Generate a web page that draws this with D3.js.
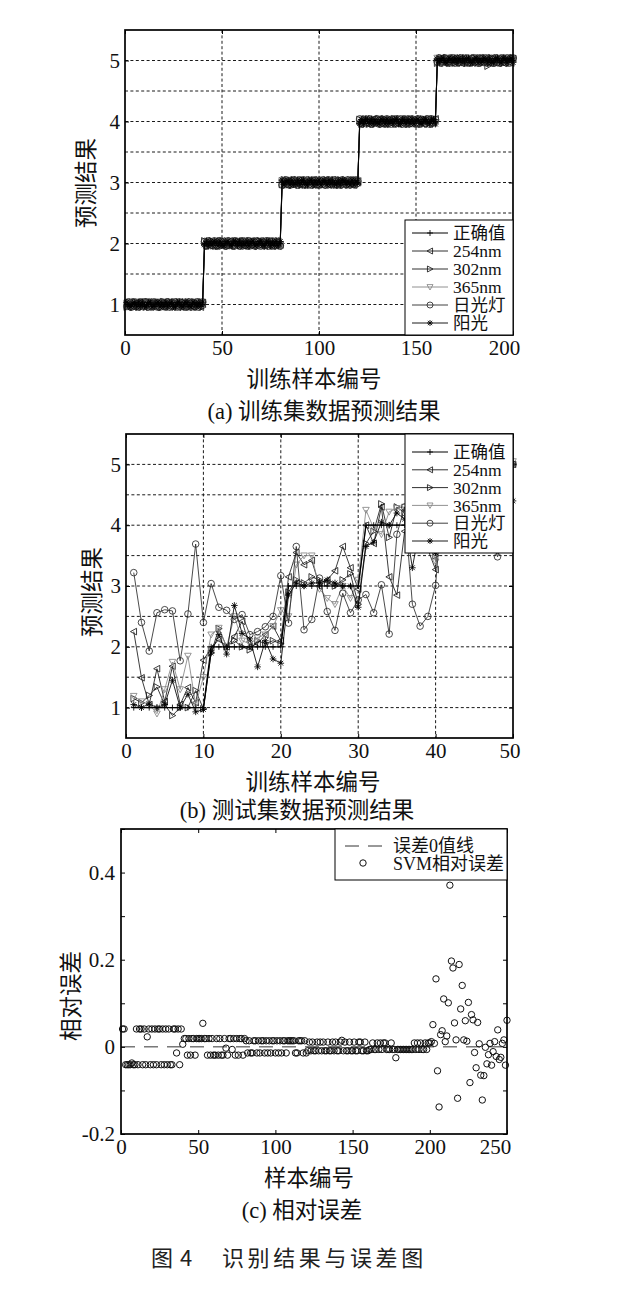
<!DOCTYPE html>
<html><head><meta charset="utf-8"><title>图4 识别结果与误差图</title>
<script src="https://cdn.jsdelivr.net/npm/d3@7/dist/d3.min.js"></script>
<style>html,body{margin:0;padding:0;background:#fff}svg{display:block}</style>
</head><body>
<svg id="fig" width="641" height="1294" xmlns="http://www.w3.org/2000/svg"></svg>
<script>
// ---------------- DATA ----------------
const seriesNames = ["正确值","254nm","302nm","365nm","日光灯","阳光"];
const trainTicksX = [0,50,100,150,200];
const testTicksX  = [0,10,20,30,40,50];
const predTicksY  = [1,2,3,4,5];
const predTickLabels = ["1","2","3","4","5"];
const errTicksX = [0,50,100,150,200,250];
const errTicksY = [-0.2,-0.1,0,0.1,0.2,0.3,0.4,0.5];
const errTickLabels = ["-0.2","","0","","0.2","","0.4",""];
const errLegend = ["误差0值线","SVM相对误差"];

// (a) training set: true class of samples 1..200
const trainTrue = [
1,1,1,1,1,1,1,1,1,1, 1,1,1,1,1,1,1,1,1,1, 1,1,1,1,1,1,1,1,1,1, 1,1,1,1,1,1,1,1,1,1,
2,2,2,2,2,2,2,2,2,2, 2,2,2,2,2,2,2,2,2,2, 2,2,2,2,2,2,2,2,2,2, 2,2,2,2,2,2,2,2,2,2,
3,3,3,3,3,3,3,3,3,3, 3,3,3,3,3,3,3,3,3,3, 3,3,3,3,3,3,3,3,3,3, 3,3,3,3,3,3,3,3,3,3,
4,4,4,4,4,4,4,4,4,4, 4,4,4,4,4,4,4,4,4,4, 4,4,4,4,4,4,4,4,4,4, 4,4,4,4,4,4,4,4,4,4,
5,5,5,5,5,5,5,5,5,5, 5,5,5,5,5,5,5,5,5,5, 5,5,5,5,5,5,5,5,5,5, 5,5,5,5,5,5,5,5,5,5];
// (a) predicted minus true, in hundredths (read as a +-0.04 band)
const trainDev254 = [
3,-4,4,-3,2,-4,4,3,-2,-4, 4,-4,3,2,-3,-4,4,-2,3,-4, 4,3,-4,-3,4,2,-4,3,-3,4, -4,2,4,-3,-4,3,4,-2,-4,3,
-3,4,2,-4,3,-4,4,-2,3,4, -4,-3,2,4,-4,3,-2,-4,4,3, -3,4,-4,2,3,-4,4,-3,-2,4, 3,-4,4,-3,2,-4,3,4,-4,-2,
4,-3,3,-4,2,4,-4,3,-3,-4, 4,2,-4,3,4,-3,-4,2,4,-3, 3,-4,4,-2,-4,3,4,-4,2,-3, 4,3,-4,-3,4,-2,3,-4,4,2,
-4,3,4,-2,-4,3,-3,4,2,-4, 4,-3,3,-4,-2,4,3,-4,4,-3, -4,2,4,3,-4,-3,4,-2,3,-4, 4,3,-3,-4,2,4,-4,3,-2,4,
3,-4,4,2,-3,-4,4,-3,3,4, -4,-2,4,3,-4,3,-3,4,-4,2, 3,-4,4,-3,-2,4,3,-4,4,-3, 2,-4,3,4,-4,-3,4,2,-4,3];
const trainDev302 = [
-4,3,2,-4,4,-3,-4,3,4,-2, -4,4,3,-3,4,-4,2,3,-4,4, -3,-4,4,2,-3,4,-4,3,-2,-4, 4,3,-4,4,-3,2,-4,3,4,-4,
4,-2,-4,3,4,-3,2,-4,4,-4, 3,2,-4,-3,4,3,-4,4,-2,-3, 4,-4,3,4,-4,2,-3,4,-4,3, -2,4,-4,3,4,-3,-4,2,4,-3,
-3,4,-4,3,2,-4,4,-3,4,3, -4,-2,4,-4,3,4,-3,-4,2,4, -4,3,-3,4,2,-4,-3,4,-4,3, 4,-2,-4,3,-4,4,2,-3,4,-4,
3,-4,-3,4,2,-4,4,-3,-4,3, 4,-2,-4,4,3,-3,-4,2,4,-4, 3,4,-3,-2,4,-4,3,-4,4,2, -3,4,-4,3,-2,-4,4,3,-4,2,
-4,3,4,-3,-2,4,-4,3,4,-4, 2,3,-4,4,-3,-4,3,2,-4,4, 3,-3,4,-4,-2,4,-9,-4,4,-3, 2,-4,4,3,-4,-3,2,-4,3,4];
const trainDev365 = [
2,-3,4,-4,3,-2,4,-4,-3,4, 2,-4,3,-3,4,-4,-2,3,4,-4, 3,-3,-4,4,2,-3,4,-4,3,2, -4,4,-3,-4,3,4,-2,-4,4,3,
-4,3,4,-4,-2,3,4,-3,-4,2, 4,-4,3,-3,4,2,-4,4,-3,3, -4,-2,4,3,-4,4,-3,2,-4,3, 4,-4,-3,4,2,-4,3,-3,4,-4,
3,4,-4,-3,4,-2,3,-4,4,-3, 2,4,-4,3,-4,-3,4,2,-4,4, -3,3,-4,4,2,-3,-4,4,3,-2, 4,-4,3,-4,4,2,-3,4,-4,3,
-3,4,-4,3,4,-2,-4,3,-3,4, 2,-4,4,-3,3,-4,4,2,-3,-4, 4,3,-4,3,-2,4,-4,4,-3,2, 3,-4,4,-3,-4,3,2,-4,4,-3,
4,-3,-4,3,2,-4,4,-3,4,-4, 3,2,-3,4,-4,3,-4,4,-2,3, 4,-4,-3,4,3,-4,2,4,-3,-4, 4,3,-2,-4,4,-3,3,4,-4,2];
const trainDevLamp = [
-3,4,-4,3,4,-2,-4,3,-3,4, 4,-4,2,-3,4,3,-4,-4,4,2, -3,4,-4,3,-2,4,-4,4,3,-3, -4,2,4,-4,3,-3,4,-4,2,4,
3,-4,4,2,-3,4,-4,-3,4,3, -2,-4,4,-3,3,-4,4,2,-4,3, 4,-3,-4,4,-2,3,-4,4,3,-4, 2,-3,4,-4,3,4,-4,-2,3,-4,
-4,2,4,-3,-4,3,4,-2,-4,4, 3,-3,-4,4,2,-4,3,4,-3,-4, 2,4,-4,3,4,-3,-2,4,-4,3, -4,4,2,-3,4,-4,3,-3,4,2,
4,-4,3,-3,2,4,-4,-2,3,4, -4,3,-3,-4,4,2,-4,3,4,-3, -2,4,-4,3,-4,4,3,-3,2,-4, 4,-4,3,2,-3,4,-4,4,-2,3,
-2,4,-4,3,4,-3,-4,2,4,-4, 3,-3,4,2,-4,4,-3,-4,3,4, -2,-4,4,3,-3,4,-4,2,3,-4, 4,-3,-4,4,2,-3,4,-4,3,4];
const trainDevSun = [
4,-3,-4,2,3,-4,4,-3,4,-2, -4,3,4,-4,-3,2,4,-4,3,-3, 4,-4,2,4,-3,-4,3,4,-2,-4, 4,3,-3,-4,4,2,-4,3,-3,4,
-2,4,-4,3,-3,4,2,-4,4,-3, -4,3,4,-2,-4,4,3,-3,4,-4, 2,-3,4,-4,3,4,-4,-2,3,4, -3,-4,4,2,-4,3,-3,4,-4,3,
4,-4,2,3,-4,4,-3,-2,4,-4, 3,4,-3,-4,2,4,-4,3,-3,4, -4,2,3,-4,4,-3,4,-2,-4,3, -4,4,3,-3,2,-4,4,-4,3,-2,
-3,3,-4,4,2,-3,4,-4,3,-2, -4,4,3,-4,4,-3,2,-4,3,4, -4,-3,4,2,-4,3,-3,4,-4,2, 4,-3,-4,3,4,-2,-4,4,3,-4,
2,-4,3,4,-3,-4,4,2,-3,4, -4,3,-2,4,-4,3,4,-3,-4,2, 4,-4,3,-3,4,2,-4,4,-3,-4, 3,4,-2,-4,4,3,-4,2,4,-3];

// (b) test set, samples 1..50
const testTrue = [
1,1,1,1,1,1,1,1,1,1, 2,2,2,2,2,2,2,2,2,2, 3,3,3,3,3,3,3,3,3,3, 4,4,4,4,4,4,4,4,4,4, 5,5,5,5,5,5,5,5,5,5];
const test254 = [
2.25,1.49,1.05,1.64,1.10,1.68,1.05,1.33,1.08,1.78, 1.98,2.12,2.00,2.17,2.42,2.00,2.05,2.20,2.34,2.10,
3.15,3.55,3.35,3.42,3.00,3.10,3.25,3.65,3.30,2.95, 4.00,3.70,4.30,3.15,2.85,3.90,4.10,3.80,3.60,3.27,
4.90,5.05,4.95,5.10,4.85,5.00,4.95,5.05,4.90,5.00];
const test302 = [
1.15,1.08,1.20,1.34,1.05,0.87,1.00,1.00,1.28,0.98, 1.90,2.30,2.00,2.10,2.00,1.95,2.10,2.05,2.10,2.05,
2.90,3.10,3.05,3.15,3.10,3.05,3.00,3.10,3.20,2.70, 3.70,3.90,4.35,3.80,4.30,4.20,3.60,4.10,4.00,3.50,
5.00,4.95,5.05,5.00,4.90,5.10,5.00,4.95,5.05,5.00];
const test365 = [
1.19,1.10,1.05,0.90,1.30,1.75,1.30,1.85,1.05,1.50, 2.20,2.31,2.00,2.50,2.10,2.05,2.15,2.20,2.34,2.60,
2.50,3.35,3.50,3.50,2.95,2.80,2.70,3.00,2.80,3.10, 4.25,3.95,3.85,4.22,4.28,4.30,3.95,4.00,3.90,3.40,
5.05,5.00,4.90,5.10,5.00,4.95,5.05,5.00,4.90,5.05];
const testLamp = [
3.22,2.40,1.93,2.56,2.61,2.59,1.77,2.54,3.69,2.40, 3.04,2.65,2.60,2.45,2.53,2.20,2.25,2.33,2.50,3.17,
2.39,3.65,2.28,2.45,3.13,2.58,2.27,2.88,2.56,2.77, 2.86,2.56,3.02,2.21,3.85,4.30,2.70,2.34,2.50,3.01,
4.60,5.10,4.90,5.20,4.80,5.00,3.90,3.48,3.90,5.00];
const testSun = [
1.05,1.00,1.06,1.00,1.05,1.45,1.00,1.22,0.93,0.97, 1.90,2.20,1.88,2.68,2.22,2.13,1.67,2.10,1.80,1.73,
2.85,3.05,3.00,3.05,3.05,3.10,3.05,3.00,3.00,2.65, 3.65,3.72,4.05,4.00,4.20,4.10,3.30,4.00,4.05,3.55,
5.00,4.95,5.05,5.00,5.10,4.90,5.00,5.05,4.95,4.40];

// (c) SVM relative error, samples 1..200 (training) and 201..250 (test)
const errTrain = [
0.041,0.041,-0.041,-0.041,-0.041,-0.041,-0.037,-0.041,-0.041,0.041, -0.041,0.041,0.041,-0.041,0.041,-0.041,0.023,0.041,-0.041,0.041,
-0.041,0.041,-0.041,0.041,0.041,-0.041,0.041,-0.041,0.041,-0.041, 0.041,-0.041,-0.041,0.041,0.041,-0.014,0.041,-0.041,0.041,0.006,
0.019,0.019,-0.019,0.019,-0.019,0.019,0.019,-0.019,0.019,0.019, 0.019,0.019,0.054,0.019,0.019,-0.019,0.019,-0.019,0.019,-0.019,
-0.019,0.019,-0.019,0.019,-0.019,-0.019,0.019,-0.003,-0.019,0.019, 0.019,-0.006,0.019,-0.019,0.019,-0.019,0.019,0.019,-0.019,0.019,
0.014,-0.014,0.014,-0.014,-0.014,0.014,0.014,-0.014,0.014,-0.014, 0.014,0.014,-0.014,0.014,-0.014,0.014,-0.014,0.014,0.014,-0.014,
0.014,-0.014,0.014,-0.014,0.014,0.014,-0.014,0.014,0.014,0.014, 0.014,0.014,-0.014,-0.014,0.014,0.014,0.014,-0.014,0.014,-0.014,
-0.009,0.011,-0.009,0.011,-0.009,-0.009,0.011,-0.009,0.011,-0.009, 0.011,-0.009,-0.009,0.011,-0.009,-0.009,0.011,-0.009,0.011,-0.009,
-0.009,0.011,0.015,-0.009,0.011,-0.009,-0.009,0.011,-0.009,-0.009, 0.011,-0.009,-0.009,0.011,0.011,-0.009,-0.009,0.011,-0.009,-0.009,
-0.006,-0.006,0.009,-0.006,-0.006,0.009,-0.006,0.009,-0.006,0.009, 0.009,-0.006,-0.006,-0.006,0.009,-0.006,-0.006,-0.025,-0.006,-0.006,
-0.006,-0.006,-0.006,-0.006,-0.006,-0.006,-0.006,-0.006,-0.006,0.009, -0.006,0.009,-0.006,0.009,-0.006,-0.006,0.009,-0.006,0.009,0.009];
const errTest = [
0.012,0.051,0.008,0.156,-0.055,-0.138,0.028,0.037,0.110,0.012, 0.025,0.101,0.371,0.197,0.181,0.055,0.016,-0.118,0.189,0.087,
0.141,0.016,0.060,0.013,0.102,-0.082,0.074,0.062,-0.013,-0.048, 0.056,0.007,-0.065,-0.122,-0.066,-0.001,-0.039,-0.018,0.008,-0.042,
-0.011,0.012,-0.022,0.039,-0.029,-0.024,0.008,0.016,-0.042,0.061];
const errZeroX = [0,250];
const errZeroY = [0,0];

// ---------------- DRAWING ----------------
const svg = d3.select("#fig");
const SERIF = '"Liberation Serif","Times New Roman",serif';
const MIX = '"Liberation Serif","Noto Sans CJK SC","Noto Sans CJK JP",sans-serif';
const CJK = '"Noto Sans CJK SC","Noto Sans CJK JP",sans-serif';
const INK = "#111";
const styles = [
  {m:"plus",  c:"#000",    w:1.2},
  {m:"left",  c:"#1a1a1a", w:0.85},
  {m:"right", c:"#1a1a1a", w:0.85},
  {m:"down",  c:"#858585", w:0.85},
  {m:"circle",c:"#2a2a2a", w:0.85},
  {m:"star",  c:"#000",    w:0.85}
];

function mk(t, cx, cy, s){
  switch(t){
    case "plus":  return `M${cx-s},${cy}H${cx+s}M${cx},${cy-s}V${cy+s}`;
    case "left":  return `M${cx-s},${cy}L${cx+s*0.85},${cy-s}L${cx+s*0.85},${cy+s}Z`;
    case "right": return `M${cx+s},${cy}L${cx-s*0.85},${cy-s}L${cx-s*0.85},${cy+s}Z`;
    case "down":  return `M${cx-s},${cy-s*0.8}L${cx+s},${cy-s*0.8}L${cx},${cy+s}Z`;
    case "circle":return `M${cx-s},${cy}a${s},${s} 0 1,0 ${2*s},0a${s},${s} 0 1,0 ${-2*s},0`;
    case "star": { const d=s*0.72; return `M${cx-s},${cy}H${cx+s}M${cx},${cy-s}V${cy+s}M${cx-d},${cy-d}L${cx+d},${cy+d}M${cx-d},${cy+d}L${cx+d},${cy-d}`; }
  }
  return "";
}

function frame(o){
  const g = svg.append("g");
  const x = d3.scaleLinear().domain(o.xd).range([o.l, o.r]);
  const y = d3.scaleLinear().domain(o.yd).range([o.b, o.t]);
  const grid = g.append("g");
  (o.gx||[]).forEach(v => grid.append("line").attr("x1",x(v)).attr("x2",x(v)).attr("y1",o.t).attr("y2",o.b)
      .attr("stroke","#1a1a1a").attr("stroke-width",1).attr("stroke-dasharray","3,2.4"));
  (o.gy||[]).forEach(v => grid.append("line").attr("y1",y(v)).attr("y2",y(v)).attr("x1",o.l).attr("x2",o.r)
      .attr("stroke","#1a1a1a").attr("stroke-width",1).attr("stroke-dasharray","3,2.4"));
  const data = g.append("g");
  const top = g.append("g");
  return {g, x, y, data, top, o};
}

function styleAxis(sel, labels){
  sel.select(".domain").remove();
  sel.selectAll(".tick line").attr("stroke","#000").attr("stroke-width",1);
  sel.selectAll(".tick text").attr("font-family",SERIF).attr("font-size",21).attr("fill",INK);
  if(!labels) sel.selectAll(".tick text").remove();
}

function axes(P, xt, yt, ytl, lastShift, ypad){
  const {x, y, o, top} = P;
  const bx = top.append("g").attr("transform",`translate(0,${o.b})`)
    .call(d3.axisBottom(x).tickValues(xt).tickFormat(d3.format("d")).tickSizeInner(-4).tickSizeOuter(0).tickPadding(5));
  styleAxis(bx, true);
  bx.selectAll(".tick text").filter(d => d === xt[xt.length-1]).attr("dx", lastShift);
  const tx = top.append("g").attr("transform",`translate(0,${o.t})`)
    .call(d3.axisTop(x).tickValues(xt).tickSizeInner(-4).tickSizeOuter(0));
  styleAxis(tx, false);
  const ly = top.append("g").attr("transform",`translate(${o.l},0)`)
    .call(d3.axisLeft(y).tickValues(yt).tickFormat((d,i)=>ytl[i]).tickSizeInner(-4).tickSizeOuter(0).tickPadding(ypad));
  styleAxis(ly, true);
  const ry = top.append("g").attr("transform",`translate(${o.r},0)`)
    .call(d3.axisRight(y).tickValues(yt).tickSizeInner(-4).tickSizeOuter(0));
  styleAxis(ry, false);
  top.append("rect").attr("x",o.l).attr("y",o.t).attr("width",o.r-o.l).attr("height",o.b-o.t)
    .attr("fill","none").attr("stroke","#000").attr("stroke-width",1.7);
}

function series(P, xs, vals, st, ms){
  const pts = vals.map((v,i)=>({x:xs[i], y:v}));
  P.data.append("path").datum(pts)
    .attr("d", d3.line().x(d=>P.x(d.x)).y(d=>P.y(d.y)))
    .attr("fill","none").attr("stroke",st.c).attr("stroke-width",st.w).attr("stroke-linejoin","round");
  P.data.append("g").selectAll("path").data(pts).join("path")
    .attr("d", d=>mk(st.m, P.x(d.x), P.y(d.y), ms))
    .attr("fill","none").attr("stroke",st.c).attr("stroke-width",0.85);
}

function text(str, x, y, fs, fam, rot){
  const t = svg.append("text").attr("text-anchor","middle").attr("dy","0.35em")
    .attr("font-size",fs).attr("font-family",fam).attr("fill",INK).text(str);
  if(rot) t.attr("transform",`translate(${x},${y}) rotate(-90)`);
  else t.attr("x",x).attr("y",y);
  return t;
}

function predLegend(P, box, rowY){
  const L = P.top.append("g");
  L.append("rect").attr("x",box[0]).attr("y",box[1]).attr("width",box[2]-box[0]).attr("height",box[3]-box[1])
    .attr("fill","#fff").attr("stroke","#000").attr("stroke-width",1);
  seriesNames.forEach((nm,i)=>{
    const st = styles[i], yy = rowY[i];
    L.append("line").attr("x1",412).attr("x2",448).attr("y1",yy).attr("y2",yy).attr("stroke",st.c).attr("stroke-width",i===0?1:0.9);
    L.append("path").attr("d",mk(st.m,430,yy,3)).attr("fill","none").attr("stroke",st.c).attr("stroke-width",0.85);
    L.append("text").attr("x",453).attr("y",yy).attr("dy","0.35em").attr("font-size",17.5)
      .attr("font-family",MIX).attr("fill",INK).text(nm);
  });
}

// ---- (a) training set ----
const A = frame({l:125, r:513, t:30, b:335, xd:[0,200], yd:[0.5,5.5],
  gx:[50,100,150], gy:[1,1.5,2,2.5,3,3.5,4,4.5,5]});
const trainX = trainTrue.map((v,i)=>i+1);
const trainDevs = [trainDev254, trainDev302, trainDev365, trainDevLamp, trainDevSun];
trainDevs.forEach((dev,k)=>{
  series(A, trainX, trainTrue.map((v,i)=>v + dev[i]/100), styles[k+1], 3.5);
});
series(A, trainX, trainTrue, {m:"plus", c:"#000", w:0.9}, 2.5);
axes(A, trainTicksX, predTicksY, predTickLabels, -9, 5);
predLegend(A, [405,220,513,335], [233,251,269,287,305,323]);
text("预测结果", 86, 183, 22.5, CJK, true);
text("训练样本编号", 314, 379, 22.5, CJK);
text("(a) 训练集数据预测结果", 324, 411, 22.5, MIX);

// ---- (b) test set ----
const B = frame({l:126, r:513, t:434, b:738, xd:[0,50], yd:[0.5,5.5],
  gx:[10,20,30,40], gy:[1,1.5,2,2.5,3,3.5,4,4.5,5]});
const testX = testTrue.map((v,i)=>i+1);
[test254, test302, test365, testLamp, testSun].forEach((vals,k)=>{
  series(B, testX, vals, styles[k+1], 3.3);
});
series(B, testX, testTrue, styles[0], 3);
axes(B, testTicksX, predTicksY, predTickLabels, -3.5, 5);
predLegend(B, [405,434,513,553], [452,469.8,487.6,505.4,523.2,541]);
text("预测结果", 92, 592, 22.5, CJK, true);
text("训练样本编号", 313, 782, 22.5, CJK);
text("(b) 测试集数据预测结果", 297, 810, 22.5, MIX);

// ---- (c) relative error ----
const C = frame({l:121, r:507, t:829, b:1134, xd:[0,250], yd:[-0.2,0.5]});
C.data.append("path").datum(errZeroX.map((v,i)=>({x:v, y:errZeroY[i]})))
  .attr("d", d3.line().x(d=>C.x(d.x)).y(d=>C.y(d.y)))
  .attr("fill","none").attr("stroke","#333").attr("stroke-width",1).attr("stroke-dasharray","14,9");
const errAll = errTrain.concat(errTest);
C.data.append("g").selectAll("path").data(errAll).join("path")
  .attr("d",(v,i)=>mk("circle", C.x(i+1), C.y(v), 3.2))
  .attr("fill","none").attr("stroke","#111").attr("stroke-width",1);
axes(C, errTicksX, errTicksY, errTickLabels, -12, 6);
const CL = C.top.append("g");
CL.append("rect").attr("x",335).attr("y",829).attr("width",172).attr("height",51)
  .attr("fill","#fff").attr("stroke","#000").attr("stroke-width",1);
CL.append("line").attr("x1",345).attr("x2",383).attr("y1",846).attr("y2",846)
  .attr("stroke","#333").attr("stroke-width",1).attr("stroke-dasharray","14,9");
CL.append("path").attr("d",mk("circle",363,863,3.2)).attr("fill","none").attr("stroke","#111").attr("stroke-width",1);
CL.append("text").attr("x",393).attr("y",846).attr("dy","0.35em").attr("font-size",18).attr("font-family",MIX).attr("fill",INK).text(errLegend[0]);
CL.append("text").attr("x",393).attr("y",864).attr("dy","0.35em").attr("font-size",18).attr("font-family",MIX).attr("fill",INK).text(errLegend[1]);
text("相对误差", 71, 996, 22.5, CJK, true);
text("样本编号", 309, 1178, 22.5, CJK);
text("(c) 相对误差", 302, 1210, 22.5, MIX);

// ---- figure caption ----
const cap = svg.append("text").attr("y",1258).attr("dy","0.35em").attr("font-size",22)
  .attr("font-family",CJK).attr("fill","#222");
cap.append("tspan").attr("x",151).text("图");
cap.append("tspan").attr("x",180).text("4");
cap.append("tspan").attr("x",222).attr("letter-spacing",3.6).text("识别结果与误差图");
</script>
</body></html>
